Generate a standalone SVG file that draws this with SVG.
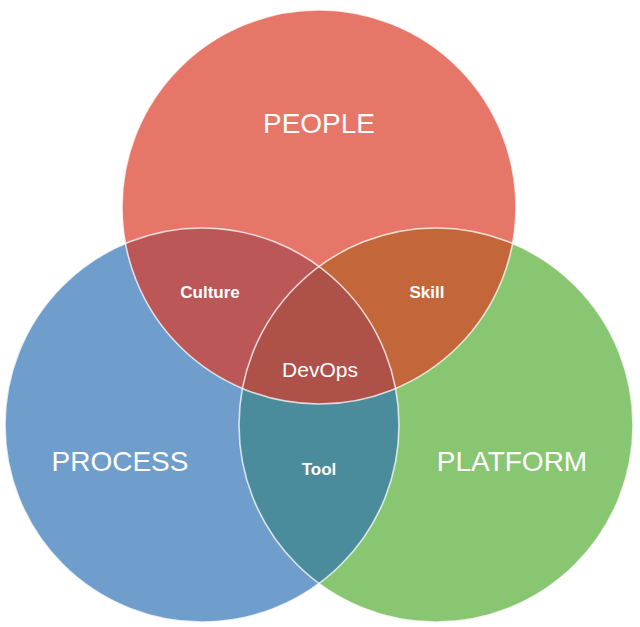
<svg xmlns="http://www.w3.org/2000/svg" width="640" height="627" viewBox="0 0 640 627">
  <style>
    .edge { fill: none; stroke: #ffffff; stroke-opacity: 0.75; stroke-width: 1.6; }
    .big { font-family: "Liberation Sans", Arial, sans-serif; font-size: 28px; fill: #ffffff; text-anchor: middle; }
    .small { font-family: "Liberation Sans", Arial, sans-serif; font-size: 17px; font-weight: bold; fill: #ffffff; text-anchor: middle; }
    .mid { font-family: "Liberation Sans", Arial, sans-serif; font-size: 21px; fill: #ffffff; text-anchor: middle; }
  </style>
  <defs>
    <clipPath id="cPeople"><circle cx="319" cy="207" r="197"/></clipPath>
    <clipPath id="cProcess"><circle cx="202" cy="425" r="197"/></clipPath>
    <clipPath id="cPlatform"><circle cx="436" cy="425" r="197"/></clipPath>
  </defs>
  <rect x="0" y="0" width="640" height="627" fill="#ffffff"/>
  <g id="people">
    <circle cx="319" cy="207" r="197" fill="#E67768"/>
    <text class="big" x="319" y="133">PEOPLE</text>
  </g>
  <g id="process">
    <circle cx="202" cy="425" r="197" fill="#6F9ECC"/>
    <text class="big" x="120" y="471">PROCESS</text>
  </g>
  <g id="platform">
    <circle cx="436" cy="425" r="197" fill="#88C672"/>
    <text class="big" x="512" y="471">PLATFORM</text>
  </g>
  <g id="culture">
    <g clip-path="url(#cPeople)"><circle cx="202" cy="425" r="197" fill="#BB5757"/></g>
  </g>
  <g id="skill">
    <g clip-path="url(#cPeople)"><circle cx="436" cy="425" r="197" fill="#C3663A"/></g>
  </g>
  <g id="tool">
    <g clip-path="url(#cProcess)"><circle cx="436" cy="425" r="197" fill="#4B8C9C"/></g>
  </g>
  <g id="devops">
    <g clip-path="url(#cPeople)"><g clip-path="url(#cProcess)"><circle cx="436" cy="425" r="197" fill="#AD5149"/></g></g>
  </g>
  <g id="connectors">
    <circle class="edge" cx="319" cy="207" r="197"/>
    <circle class="edge" cx="202" cy="425" r="197"/>
    <circle class="edge" cx="436" cy="425" r="197"/>
  </g>
  <g id="labels">
    <text class="small" x="210" y="298">Culture</text>
    <text class="small" x="427" y="298">Skill</text>
    <text class="mid" x="320" y="377">DevOps</text>
    <text class="small" x="319" y="475">Tool</text>
  </g>
</svg>
